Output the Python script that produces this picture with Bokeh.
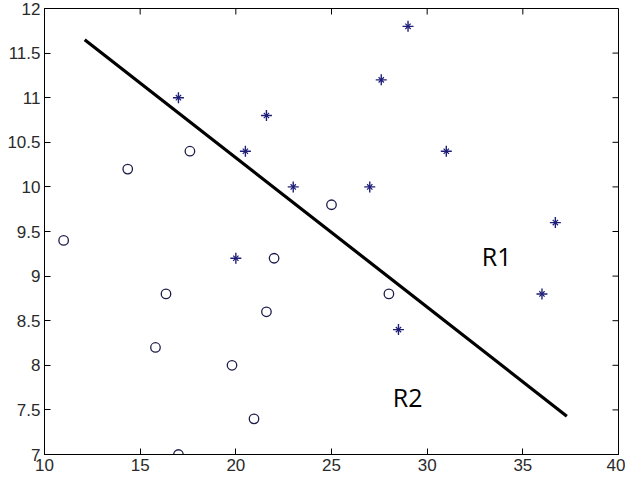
import math
from bokeh.plotting import figure
from bokeh.models import FixedTicker, Range1d, ColumnDataSource
from bokeh.core.properties import value
from bokeh.embed import file_html
from bokeh.resources import INLINE

# ---- data ----
star_x = [17.0, 21.6, 20.5, 23.0, 27.6, 29.0, 27.0, 31.0, 36.7, 36.0, 20.0, 28.5]
star_y = [11.0, 10.8, 10.4, 10.0, 11.2, 11.8, 10.0, 10.4, 9.6, 8.8, 9.2, 8.4]

circ_x = [11.0, 14.35, 17.6, 16.35, 15.8, 19.8, 20.95, 17.0, 21.6, 22.0, 25.0, 28.0]
circ_y = [9.4, 10.2, 10.4, 8.8, 8.2, 8.0, 7.4, 7.0, 8.6, 9.2, 9.8, 8.8]

line_x = [12.1, 37.3]
line_y = [11.65, 7.43]

label_text = ["R1", "R2"]
label_x = [32.85, 28.2]
label_y = [9.22, 7.65]

x_ticks = [10, 15, 20, 25, 30, 35, 40]
x_tick_labels = ["10", "15", "20", "25", "30", "35", "40"]
y_ticks = [7, 7.5, 8, 8.5, 9, 9.5, 10, 10.5, 11, 11.5, 12]
y_tick_labels = ["7", "7.5", "8", "8.5", "9", "9.5", "10", "10.5", "11", "11.5", "12"]

X_MIN, X_MAX = 10, 40
Y_MIN, Y_MAX = 7, 12

# ---- figure ----
p = figure(width=625, height=479, x_range=Range1d(X_MIN, X_MAX), y_range=Range1d(Y_MIN, Y_MAX),
           output_backend="svg", toolbar_location=None,
           min_border_left=44, min_border_right=7, min_border_top=8, min_border_bottom=25)
p.grid.visible = False
p.outline_line_color = "black"
p.outline_line_width = 1
p.background_fill_color = "white"
p.border_fill_color = "white"

FONT = "Liberation Sans"
TICK_COLOR = "#2a2a2a"
TICK_LEN = 6

def style_axis(ax, ticks, labels):
    ax.ticker = FixedTicker(ticks=ticks)
    ax.major_label_overrides = {float(t): l for t, l in zip(ticks, labels)}
    ax.major_tick_in = TICK_LEN
    ax.major_tick_out = 0
    ax.minor_tick_in = 0
    ax.minor_tick_out = 0
    ax.axis_line_color = "black"
    ax.major_tick_line_color = "black"
    ax.major_label_text_font = FONT
    ax.major_label_text_color = TICK_COLOR
    ax.major_label_text_font_size = "17px"
    ax.major_label_standoff = 4

style_axis(p.xaxis[0], x_ticks, x_tick_labels)
style_axis(p.yaxis[0], y_ticks, y_tick_labels)

# mirrored inward ticks on the top and right edges
p.ray(x=x_ticks, y=[Y_MAX] * len(x_ticks), length=TICK_LEN, length_units="screen",
      angle=-math.pi / 2, line_color="black", line_width=1)
p.ray(x=[X_MAX] * len(y_ticks), y=y_ticks, length=TICK_LEN, length_units="screen",
      angle=math.pi, line_color="black", line_width=1)

# separating line
p.line(line_x, line_y, line_color="black", line_width=3.2)

# circles
csrc = ColumnDataSource(dict(x=circ_x, y=circ_y))
p.scatter("x", "y", source=csrc, marker="circle", size=9.5, fill_color=None,
          line_color="#1c1c4a", line_width=1.3)

# stars (matlab '*' = + and x)
ssrc = ColumnDataSource(dict(x=star_x, y=star_y))
p.scatter("x", "y", source=ssrc, marker="cross", size=11, line_color="#1e1e78", line_width=1.4)
p.scatter("x", "y", source=ssrc, marker="x", size=7.5, line_color="#1e1e78", line_width=1.2)

# region labels
lsrc = ColumnDataSource(dict(x=label_x, y=label_y, t=label_text))
p.text("x", "y", text="t", source=lsrc, text_font=value("Open Sans"), text_font_size="25px",
       text_color="black", text_align="left", text_baseline="middle")

open("out.html", "w").write(file_html(p, INLINE))
